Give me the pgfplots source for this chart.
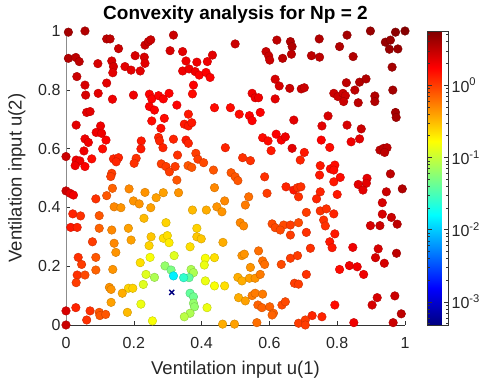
\documentclass[border=0pt]{standalone}
\usepackage{pgfplots}
\pgfplotsset{compat=1.18}
\usepackage{pgfplotstable}
\usepackage{fontspec}
\setmainfont{Liberation Sans}
\pgfplotstableread{
x y c
0.007 0.996 0.6
0.056 1.0 0.55
0.12 0.973 0.5
0.13 0.973 0.5
0.155 0.94 0.45
0.233 0.952 0.45
0.243 0.964 0.45
0.25 0.97 0.45
0.317 0.986 0.45
0.307 0.933 0.4
0.007 0.907 0.55
0.029 0.91 0.5
0.039 0.896 0.5
0.094 0.889 0.4
0.135 0.898 0.4
0.14 0.879 0.4
0.138 0.858 0.35
0.204 0.916 0.4
0.231 0.911 0.4
0.233 0.89 0.35
0.174 0.879 0.35
0.192 0.867 0.35
0.219 0.864 0.35
0.032 0.845 0.45
0.056 0.816 0.4
0.12 0.823 0.35
0.058 0.782 0.4
0.095 0.788 0.35
0.137 0.768 0.3
0.199 0.782 0.3
0.246 0.785 0.25
0.253 0.769 0.25
0.273 0.78 0.25
0.287 0.769 0.25
0.304 0.788 0.25
0.327 0.748 0.25
0.246 0.743 0.25
0.261 0.731 0.25
0.061 0.723 0.35
0.071 0.726 0.35
0.253 0.694 0.2
0.29 0.703 0.2
0.03 0.68 0.35
0.102 0.677 0.3
0.28 0.669 0.2
0.499 0.956 0.45
0.622 0.969 0.5
0.662 0.964 0.55
0.667 0.947 0.55
0.665 0.921 0.5
0.344 0.93 0.35
0.432 0.918 0.35
0.59 0.93 0.45
0.598 0.915 0.45
0.601 0.901 0.45
0.639 0.907 0.5
0.354 0.898 0.3
0.386 0.894 0.3
0.417 0.896 0.3
0.344 0.864 0.3
0.363 0.871 0.3
0.381 0.862 0.3
0.393 0.85 0.25
0.413 0.859 0.25
0.425 0.842 0.25
0.376 0.816 0.25
0.373 0.786 0.2
0.617 0.836 0.4
0.629 0.813 0.4
0.66 0.805 0.45
0.549 0.788 0.3
0.558 0.773 0.3
0.568 0.773 0.3
0.617 0.769 0.35
0.438 0.739 0.2
0.485 0.739 0.2
0.511 0.717 0.2
0.541 0.712 0.25
0.549 0.695 0.25
0.573 0.723 0.25
0.361 0.717 0.15
0.349 0.683 0.15
0.361 0.677 0.15
0.371 0.688 0.15
0.672 0.697 0.35
0.898 1.0 0.65
0.972 0.996 0.7
1.0 1.0 0.72
0.829 0.986 0.6
0.747 0.973 0.55
0.807 0.947 0.55
0.942 0.962 0.65
0.957 0.969 0.65
0.954 0.938 0.65
0.979 0.939 0.65
0.724 0.916 0.5
0.748 0.911 0.5
0.847 0.913 0.55
0.962 0.877 0.6
0.694 0.803 0.45
0.703 0.807 0.45
0.827 0.824 0.5
0.866 0.826 0.55
0.885 0.837 0.55
0.852 0.799 0.5
0.79 0.788 0.45
0.802 0.777 0.45
0.817 0.788 0.45
0.824 0.78 0.45
0.819 0.76 0.45
0.862 0.756 0.5
0.911 0.779 0.55
0.911 0.76 0.55
0.964 0.799 0.6
0.972 0.723 0.6
0.974 0.706 0.6
0.773 0.711 0.4
0.755 0.677 0.35
0.829 0.68 0.4
0.871 0.667 0.45
0.089 0.655 0.3
0.105 0.652 0.3
0.118 0.629 0.25
0.056 0.633 0.3
0.066 0.621 0.3
0.053 0.592 0.3
0.108 0.599 0.2
0.222 0.626 0.15
0.221 0.599 0.15
0.273 0.638 0.1
0.276 0.626 0.1
0.286 0.603 0.1
0.317 0.632 0.1
0.0 0.573 0.45
0.03 0.561 0.3
0.041 0.558 0.3
0.027 0.542 0.3
0.056 0.539 0.25
0.076 0.565 0.2
0.14 0.565 0.1
0.155 0.569 0.1
0.148 0.555 0.1
0.207 0.567 0.05
0.201 0.55 0.05
0.329 0.578 0.05
0.281 0.548 0.0
0.295 0.539 0.0
0.305 0.521 0.0
0.322 0.539 0.0
0.135 0.516 0.0
0.132 0.505 0.0
0.327 0.493 -0.1
0.0 0.456 0.45
0.012 0.448 0.35
0.022 0.442 0.3
0.137 0.465 -0.15
0.186 0.463 -0.3
0.12 0.44 -0.1
0.088 0.429 0.05
0.233 0.451 -0.35
0.266 0.433 -0.4
0.287 0.45 -0.4
0.332 0.45 -0.35
0.199 0.422 -0.35
0.216 0.412 -0.35
0.142 0.402 -0.3
0.162 0.399 -0.35
0.25 0.399 -0.4
0.02 0.378 0.1
0.043 0.371 0.05
0.098 0.372 -0.1
0.23 0.363 -0.5
0.295 0.348 -0.6
0.014 0.332 0.15
0.033 0.332 0.1
0.098 0.329 -0.15
0.135 0.323 -0.3
0.184 0.329 -0.4
0.354 0.629 0.15
0.361 0.618 0.1
0.47 0.603 0.1
0.58 0.637 0.2
0.596 0.626 0.2
0.62 0.649 0.25
0.635 0.629 0.25
0.647 0.64 0.3
0.605 0.593 0.15
0.667 0.601 0.35
0.383 0.584 0.0
0.389 0.564 0.0
0.406 0.552 -0.05
0.36 0.542 -0.1
0.371 0.536 -0.1
0.521 0.569 0.05
0.544 0.559 0.05
0.435 0.527 -0.1
0.487 0.518 -0.1
0.499 0.504 -0.1
0.507 0.491 -0.1
0.586 0.504 0.05
0.438 0.467 -0.3
0.649 0.47 0.1
0.593 0.448 0.0
0.672 0.459 0.15
0.539 0.436 -0.2
0.529 0.408 -0.25
0.468 0.422 -0.3
0.445 0.402 -0.35
0.46 0.385 -0.35
0.373 0.391 -0.5
0.414 0.391 -0.45
0.386 0.329 -0.6
0.514 0.348 -0.3
0.524 0.337 -0.3
0.608 0.344 -0.05
0.617 0.331 -0.05
0.642 0.34 -0.05
0.662 0.34 0.0
0.753 0.629 0.25
0.841 0.623 0.3
0.866 0.633 0.35
0.703 0.587 0.15
0.691 0.561 0.1
0.778 0.604 0.2
0.926 0.595 0.5
0.937 0.601 0.5
0.947 0.603 0.5
0.94 0.587 0.5
0.75 0.542 0.15
0.748 0.51 0.15
0.78 0.531 0.2
0.793 0.544 0.2
0.79 0.527 0.2
0.809 0.502 0.2
0.79 0.487 0.15
0.888 0.499 0.35
0.886 0.482 0.35
0.862 0.478 0.35
0.876 0.459 0.35
0.957 0.514 0.5
0.992 0.463 0.55
0.945 0.453 0.45
0.683 0.467 0.05
0.693 0.47 0.05
0.686 0.436 0.05
0.75 0.453 0.1
0.8 0.444 0.15
0.739 0.429 0.1
0.933 0.416 0.4
0.709 0.383 0.0
0.75 0.388 0.05
0.768 0.395 0.05
0.76 0.357 0.05
0.79 0.378 0.1
0.933 0.377 0.4
0.96 0.366 0.45
0.898 0.338 0.4
0.926 0.338 0.45
0.977 0.343 0.5
0.686 0.348 -0.05
0.765 0.337 0.05
0.078 0.283 0.0
0.142 0.278 -0.3
0.192 0.289 -0.4
0.251 0.3 -0.55
0.287 0.295 -0.65
0.299 0.304 -0.65
0.304 0.28 -0.7
0.147 0.247 -0.35
0.245 0.27 -0.6
0.036 0.23 0.05
0.046 0.206 0.0
0.088 0.23 -0.1
0.248 0.23 -0.8
0.319 0.236 -0.9
0.219 0.212 -0.65
0.033 0.17 0.05
0.056 0.17 -0.05
0.03 0.144 0.0
0.088 0.187 -0.15
0.138 0.189 -0.35
0.292 0.201 -1.2
0.31 0.187 -1.3
0.236 0.172 -0.9
0.261 0.162 -1.1
0.317 0.167 -1.85
0.128 0.128 -0.35
0.133 0.121 -0.35
0.184 0.125 -0.6
0.197 0.125 -0.6
0.166 0.108 -0.45
0.228 0.138 -0.9
0.133 0.077 -0.4
0.221 0.071 -0.85
0.181 0.043 -0.5
0.029 0.059 0.1
0.0 0.048 0.4
0.0 0.0 0.45
0.071 0.048 0.05
0.061 0.017 0.05
0.098 0.043 -0.1
0.1 0.032 -0.1
0.117 0.036 -0.1
0.255 0.014 -0.8
0.386 0.3 -0.55
0.399 0.293 -0.55
0.463 0.281 -0.45
0.366 0.266 -0.65
0.411 0.227 -0.8
0.408 0.204 -0.85
0.438 0.229 -0.65
0.519 0.236 -0.35
0.526 0.241 -0.35
0.568 0.252 -0.2
0.58 0.218 -0.2
0.586 0.206 -0.2
0.544 0.196 -0.35
0.632 0.323 -0.05
0.662 0.306 0.0
0.635 0.206 -0.05
0.662 0.227 0.0
0.369 0.189 -1.1
0.376 0.178 -1.1
0.363 0.161 -1.4
0.347 0.161 -1.6
0.411 0.15 -0.85
0.438 0.133 -0.8
0.468 0.133 -0.65
0.507 0.162 -0.45
0.519 0.15 -0.45
0.541 0.159 -0.4
0.558 0.159 -0.35
0.573 0.172 -0.25
0.366 0.108 -1.4
0.376 0.096 -1.35
0.376 0.074 -1.2
0.379 0.062 -1.2
0.416 0.059 -0.85
0.366 0.04 -1.1
0.349 0.028 -1.05
0.509 0.093 -0.45
0.529 0.082 -0.4
0.549 0.1 -0.25
0.558 0.108 -0.25
0.58 0.105 -0.25
0.566 0.068 -0.15
0.578 0.059 -0.15
0.601 0.062 -0.15
0.612 0.04 -0.15
0.608 0.034 -0.15
0.637 0.068 -0.05
0.647 0.079 -0.05
0.462 0.003 -0.45
0.497 0.003 -0.4
0.563 0.008 -0.2
0.674 0.142 0.0
0.709 0.315 0.05
0.793 0.31 0.15
0.778 0.283 0.15
0.785 0.263 0.15
0.721 0.261 0.05
0.846 0.264 0.3
0.921 0.259 0.4
0.913 0.229 0.4
0.939 0.21 0.4
0.975 0.244 0.5
0.683 0.236 0.0
0.807 0.189 0.2
0.836 0.202 0.3
0.859 0.198 0.3
0.878 0.172 0.3
0.709 0.172 0.05
0.686 0.139 0.0
0.918 0.093 0.4
0.903 0.068 0.4
0.97 0.099 0.45
0.989 0.038 0.5
0.793 0.068 0.2
0.726 0.032 0.1
0.755 0.028 0.1
0.686 0.006 0.0
0.706 0.017 0.0
0.706 0.0 0.0
0.849 0.008 0.3
0.965 0.008 0.45
}\pts
\begin{document}
\begin{tikzpicture}
\begin{axis}[
  at={(0pt,0pt)}, anchor=south west,
  scale only axis, width=339pt, height=294pt,
  xmin=0, xmax=1, ymin=0, ymax=1,
  clip=false,
  xtick={0,0.2,...,1}, ytick={0,0.2,...,1},
  axis x line*=bottom, axis y line*=left,
  x axis line style={black!80,-}, y axis line style={black!45,-},
  tick align=inside, major tick length=4pt,
  every tick/.style={black!80},
  /pgf/number format/assume math mode=true,
  tick label style={font=\fontsize{16}{18}\selectfont, text=black!85},
  xticklabel style={yshift=-9pt},
  yticklabel style={xshift=-2pt},
  xlabel={Ventilation input u(1)}, ylabel={Ventilation input u(2)},
  label style={font=\fontsize{18.5}{20}\selectfont, text=black!85},
  xlabel shift=5pt, ylabel shift=6pt,
  title={\bfseries Convexity analysis for Np = 2},
  title style={font=\fontsize{19}{21}\selectfont, yshift=-2pt},
  colormap/jet,
  point meta min=-3.32, point meta max=0.75,
  colorbar,
  colorbar style={
    at={(parent axis.north east)}, anchor=north west, xshift=14pt,
    width=20.6pt,
    ytick={-3,-2,-1,0},
    yticklabels={10\textsuperscript{-3},10\textsuperscript{-2},10\textsuperscript{-1},10\textsuperscript{0}},
    minor ytick={-3.301,-3.222,-3.155,-3.097,-3.046,-2.699,-2.523,-2.398,-2.301,-2.222,-2.155,-2.097,-2.046,-1.699,-1.523,-1.398,-1.301,-1.222,-1.155,-1.097,-1.046,-0.699,-0.523,-0.398,-0.301,-0.222,-0.155,-0.097,-0.046,0.301,0.477,0.602,0.699},
    tick align=inside, major tick length=4pt, minor tick length=2pt,
    yticklabel style={font=\fontsize{16}{18}\selectfont, text=black!85},
    axis line style={black!80},
  },
]
\addplot[scatter, only marks, mark=*, mark size=4.3pt, scatter src=explicit]
  table[x=x, y=y, meta=c] {\pts};
\addplot[only marks, mark=x, mark size=3.5pt, color={rgb,1:red,0;green,0;blue,0.5}, line width=1.3pt]
  coordinates {(0.312,0.111)};
\end{axis}
\pgfresetboundingbox
\useasboundingbox (-66pt,-60pt) rectangle (419pt,325pt);
\end{tikzpicture}
\end{document}
